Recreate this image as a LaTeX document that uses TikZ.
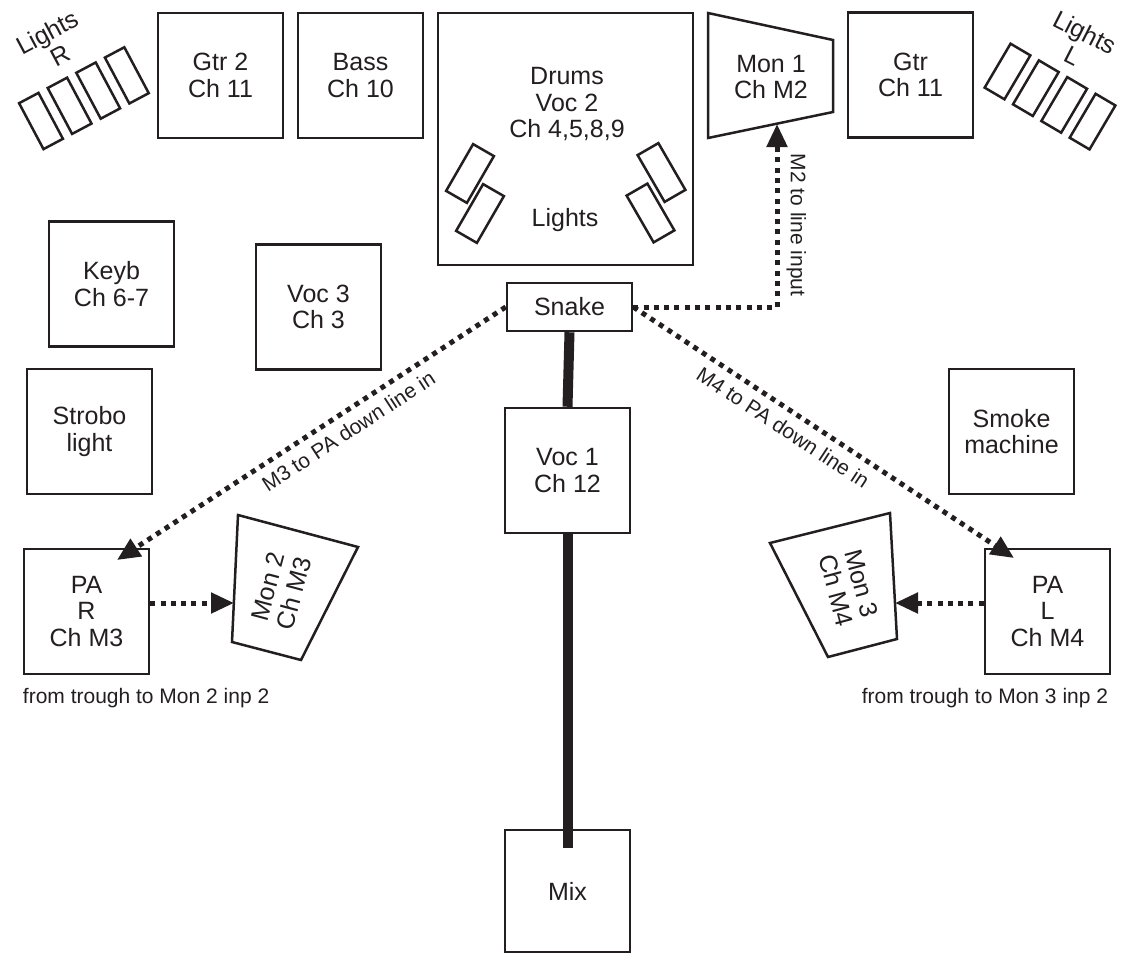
\documentclass[tikz,border=0pt]{standalone}
\usepackage{fontspec}
\setmainfont{Liberation Sans}
\usetikzlibrary{arrows.meta,positioning}
\definecolor{ink}{RGB}{35,31,32}
\begin{document}
\begin{tikzpicture}[x=1pt,y=-1pt,
        every node/.style={text=ink},
        box/.style={draw=ink, line width=2.5pt, fill=white, minimum width=125pt,
            minimum height=125pt, align=center, inner sep=0pt,
            font=\fontsize{25}{26.5}\selectfont},
        word/.style={align=center, inner sep=0pt, font=\fontsize{25}{26.5}\selectfont},
        note/.style={inner sep=0pt, font=\fontsize{21}{23}\selectfont},
        lamp/.style={draw=ink, line width=2.5pt},
        wedge/.style={draw=ink, line width=2.5pt, fill=white},
        signal/.style={draw=ink, line width=5pt, dash pattern=on 5pt off 5.3pt,
            -{Triangle[length=23pt,width=20pt]}},
        cable/.style={draw=ink, line width=10pt}]
                \useasboundingbox (0,0) rectangle (1124,954);

                % back line of the stage
                \node[box] (gtrtwo) at (220.5,75.5) {Gtr 2\\Ch 11};
                \node[box] (bass) at (360.5,75.5) {Bass\\Ch 10};
                \node[box, minimum width=255pt, minimum height=252pt] (drums) at (565.5,139) {};
                \node[word] (drumstext) at (567,104) {Drums\\Voc 2\\Ch 4,5,8,9};
                \node[word] (drumlights) at (565,220) {Lights};
                \node[box] (gtr) at (910.5,75) {Gtr\\Ch 11};

                \foreach \x/\y/\a in {470/173.5/-30, 480/213.5/-30, 661.5/172.5/30, 650.5/213/30}
                    \draw[lamp, shift={(\x,\y)}, rotate=\a] (-12,-27) rectangle (12,27);

                % lights at the sides
                \foreach \i in {0,...,3}
                    \draw[lamp, shift={(41,121)}, rotate=28] ({\i*32.4-11},-26) rectangle ({\i*32.4+11},26);
                \node[word, rotate=28] (lightsr) at (53.5,44) {Lights\\R};
                \foreach \i in {0,...,3}
                    \draw[lamp, shift={(1007.5,71.5)}, rotate=-30.5] ({\i*32.9-11.5},-25.5) rectangle ({\i*32.9+11.5},25.5);
                \node[word, rotate=-27] (lightsl) at (1079,44) {Lights\\L};

                % monitor 1
                \draw[wedge] (708,13) -- (833,40) -- (833,112) -- (708,138) -- cycle;
                \node[word] (monone) at (771,77) {Mon 1\\Ch M2};
                \coordinate (mononein) at (777,124);

                % middle
                \node[box] (keyb) at (111.5,284) {Keyb\\Ch 6-7};
                \node[box] (vocthree) at (318.5,307) {Voc 3\\Ch 3};
                \node[box] (strobo) at (89.5,431.5) {Strobo\\light};
                \node[box] (smoke) at (1011.5,431.5) {Smoke\\machine};
                \node[box, minimum height=48pt] (snake) at (569.5,307) {Snake};
                \node[box] (vocone) at (567.5,470.5) {Voc 1\\Ch 12};
                \node[box, minimum height=122pt] (mix) at (567.5,891) {Mix};
                \coordinate (mixend) at ([yshift=-19pt]mix.north);

                % front
                \node[box] (parr) at (86.5,611.5) {PA\\R\\Ch M3};
                \node[box] (pal) at (1047.5,611.5) {PA\\L\\Ch M4};
                \node[note, below right=13pt and 0pt of parr.south west] (troughr) {from trough to Mon 2 inp 2};
                \node[note, below left=13pt and 3pt of pal.south east] (troughl) {from trough to Mon 3 inp 2};

                \draw[wedge] (238,515) -- (358,547) -- (301,660) -- (232,642) -- cycle;
                \node[word, rotate=75] (montwo) at (281,590) {Mon 2\\Ch M3};
                \coordinate (montwoin) at (234,603);
                \draw[wedge] (770,543) -- (890,513) -- (897,639) -- (828,657) -- cycle;
                \node[word, rotate=-75] (monthree) at (849,587) {Mon 3\\Ch M4};
                \coordinate (monthreein) at (895,603);

                \coordinate (mthreeend) at (117,560);
                \coordinate (mfourend) at (1014,558);

                % cables
                \draw[cable] (snake.south) -- (vocone.north);
                \draw[cable] (vocone.south) -- (mixend);

                \draw[signal] (snake.east) -| (mononein)
                    node[note, pos=0.724, rotate=-90, anchor=south, inner sep=7pt] {M2 to line input};
                \draw[signal] (snake.west) -- (mthreeend)
                    node[note, pos=0.43, sloped, below, inner sep=8pt] {M3 to PA down line in};
                \draw[signal] (snake.east) -- (mfourend)
                    node[note, pos=0.42, sloped, below, inner sep=8pt] {M4 to PA down line in};
                \draw[signal] (parr.east |- montwoin) -- (montwoin);
                \draw[signal] (pal.west |- monthreein) -- (monthreein);
\end{tikzpicture}
\end{document}
